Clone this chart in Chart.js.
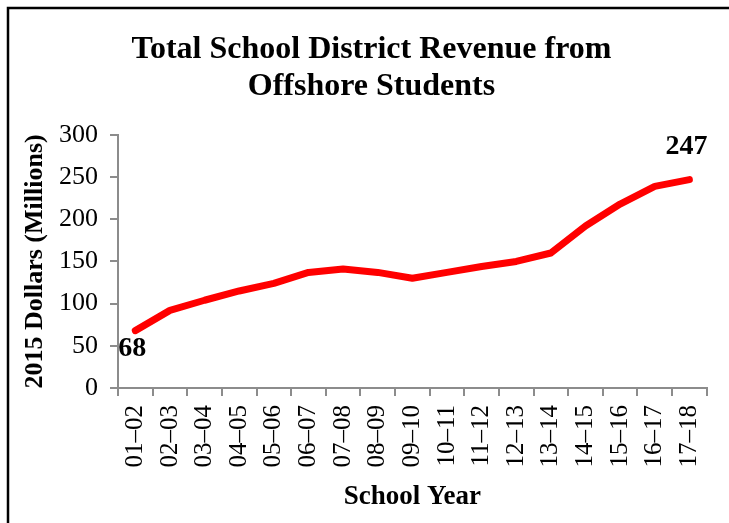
<!DOCTYPE html>
<html>
<head>
<meta charset="utf-8">
<script src="https://cdn.jsdelivr.net/npm/chart.js@4/dist/chart.umd.min.js"></script>
<style>
  html, body { margin: 0; padding: 0; background: #fff; }
  #wrap { width: 729px; height: 523px; }
</style>
</head>
<body>
<div id="wrap"><canvas id="chart" width="729" height="523"></canvas></div>
<script>
const schoolYears = ["01–02", "02–03", "03–04", "04–05", "05–06", "06–07", "07–08", "08–09", "09–10",
  "10–11", "11–12", "12–13", "13–14", "14–15", "15–16", "16–17", "17–18"];
const revenue = [68, 92, 104, 115, 124, 137, 141, 137, 130, 137, 144, 150, 160, 192, 218, 239, 247];
const yTicks = [0, 50, 100, 150, 200, 250, 300];
const labelledPoints = [0, 16]; // first and last value are written on the chart

const serif = "'Liberation Serif', 'Times New Roman', serif";
const axisGray = "#8c8c8c";

// thin black frame, only top and left edge are visible in the picture
const framePlugin = {
  id: "frame",
  beforeDraw(chart) {
    const c = chart.ctx;
    c.save();
    c.fillStyle = "#fff";
    c.fillRect(0, 0, chart.width, chart.height);
    c.strokeStyle = "#000";
    c.lineWidth = 2.5;
    c.strokeRect(8, 8, chart.width + 20, chart.height + 20);
    c.restore();
  },
};

// value labels next to the first and last point
const endLabels = {
  id: "endLabels",
  afterDatasetsDraw(chart) {
    const c = chart.ctx;
    const meta = chart.getDatasetMeta(0);
    c.save();
    c.font = "bold 28px " + serif;
    c.fillStyle = "#000";
    c.textAlign = "center";
    c.textBaseline = "middle";
    labelledPoints.forEach(function (i) {
      const pt = meta.data[i];
      const dy = i === 0 ? 18 : -33;
      c.fillText(String(revenue[i]), pt.x - 3, pt.y + dy);
    });
    c.restore();
  },
};

const ctx = document.getElementById("chart").getContext("2d");
new Chart(ctx, {
  type: "line",
  data: {
    labels: schoolYears,
    datasets: [
      {
        data: revenue,
        borderColor: "#ff0000",
        borderWidth: 7,
        borderJoinStyle: "round",
        borderCapStyle: "round",
        pointRadius: 0,
        tension: 0,
        clip: false,
      },
    ],
  },
  options: {
    responsive: false,
    animation: false,
    layout: { padding: { top: 10, left: 24, right: 10, bottom: 5 } },
    plugins: {
      legend: { display: false },
      tooltip: { enabled: false },
      title: {
        display: true,
        text: ["Total School District Revenue from", "Offshore Students"],
        color: "#000",
        font: { family: serif, size: 32, weight: "bold", lineHeight: 1.17 },
        padding: { top: 21, bottom: 29 },
      },
    },
    scales: {
      x: {
        offset: true,
        afterFit(scale) { scale.height = 130; },
        grid: { offset: true, drawOnChartArea: false, color: axisGray, lineWidth: 2, tickLength: 8 },
        border: { color: axisGray, width: 2 },
        ticks: {
          color: "#000",
          font: { family: serif, size: 25 },
          minRotation: 90,
          maxRotation: 90,
          autoSkip: false,
          padding: 9,
        },
        title: {
          display: true,
          text: "School Year",
          color: "#000",
          font: { family: serif, size: 27, weight: "bold" },
          padding: { top: 0, bottom: 5 },
        },
      },
      y: {
        min: yTicks[0],
        max: yTicks[yTicks.length - 1],
        afterFit(scale) { scale.width = 94; },
        afterBuildTicks(scale) { scale.ticks = yTicks.map(function (v) { return { value: v }; }); },
        grid: { drawOnChartArea: false, color: axisGray, lineWidth: 2, tickLength: 8 },
        border: { color: axisGray, width: 2 },
        ticks: {
          color: "#000",
          font: { family: serif, size: 26 },
          padding: 12,
        },
        title: {
          display: true,
          text: "2015 Dollars (Millions)",
          color: "#000",
          font: { family: serif, size: 26, weight: "bold", lineHeight: 0.8 },
          padding: { top: 1, bottom: 0 },
        },
      },
      // empty strip on the right so the plot ends where the reference does
      spacer: {
        type: "linear",
        position: "right",
        afterFit(scale) { scale.width = 11; },
        grid: { display: false },
        border: { display: false },
        ticks: { display: false },
      },
    },
  },
  plugins: [framePlugin, endLabels],
});
</script>
</body>
</html>
